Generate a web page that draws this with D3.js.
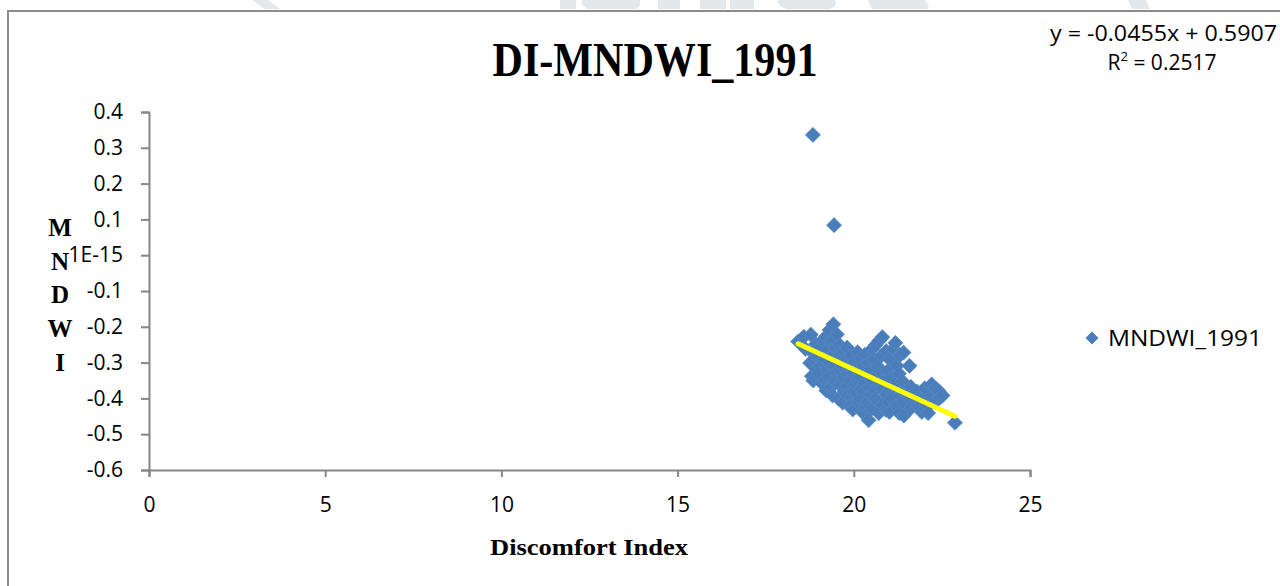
<!DOCTYPE html>
<html>
<head>
<meta charset="utf-8">
<script src="https://cdn.jsdelivr.net/npm/d3@7/dist/d3.min.js"></script>
<style>
  html, body { margin: 0; padding: 0; background: #ffffff; }
  svg { display: block; }
</style>
</head>
<body>
<svg id="chart" width="1280" height="586"></svg>
<script>
// Discomfort Index (x) against MNDWI (y), 1991
const diIndex = [
  18.84, 19.44,
  18.42, 18.58, 18.63,
  18.78, 18.83, 18.76, 18.81, 18.85,
  18.93, 18.88, 18.95,
  19.02, 18.98, 19.05, 19.01,
  19.12, 19.08, 19.14, 19.10,
  19.21, 19.18, 19.24, 19.19, 19.22,
  19.31, 19.28, 19.33, 19.30,
  19.42, 19.38, 19.41, 19.44, 19.37, 19.40,
  19.52, 19.48, 19.55, 19.50, 19.47,
  19.61, 19.58, 19.63, 19.60, 19.57,
  19.72, 19.68, 19.71, 19.74, 19.69,
  19.81, 19.78, 19.83, 19.79, 19.82,
  19.92, 19.88, 19.91, 19.94, 19.89,
  20.02, 19.98, 20.04, 20.01, 19.97,
  20.11, 20.08, 20.13, 20.09, 20.12,
  20.21, 20.18, 20.22, 20.19, 20.24,
  20.31, 20.28, 20.33, 20.29, 20.32,
  20.41, 20.38, 20.43, 20.39, 20.42,
  20.52, 20.48, 20.53, 20.49, 20.51,
  20.62, 20.58, 20.63, 20.59, 20.61,
  20.72, 20.68, 20.73, 20.69, 20.71,
  20.81, 20.78, 20.83, 20.79, 20.82,
  20.92, 20.88, 20.93, 20.91,
  21.02, 20.98, 21.03, 20.99, 21.01,
  21.12, 21.08, 21.13, 21.09,
  21.18, 21.22, 21.19, 21.21,
  21.31, 21.28, 21.33, 21.29,
  21.41, 21.38, 21.43, 21.39, 21.42,
  21.58, 21.62, 21.59, 21.61,
  21.79, 21.82,
  21.91, 21.88, 21.93,
  22.01, 21.98, 22.03,
  22.12, 22.08, 22.11,
  22.21, 22.18,
  22.31, 22.33,
  22.41, 22.44,
  22.52,
  22.87
];
const mndwi = [
  0.336, 0.084,
  -0.241, -0.228, -0.262,
  -0.222, -0.272, -0.301, -0.338, -0.350,
  -0.248, -0.291, -0.318,
  -0.262, -0.283, -0.309, -0.331,
  -0.238, -0.271, -0.298, -0.358,
  -0.228, -0.289, -0.321, -0.349, -0.378,
  -0.209, -0.262, -0.302, -0.338,
  -0.193, -0.241, -0.279, -0.312, -0.368, -0.392,
  -0.221, -0.258, -0.287, -0.328, -0.352,
  -0.252, -0.298, -0.322, -0.361, -0.401,
  -0.268, -0.309, -0.341, -0.379, -0.412,
  -0.258, -0.292, -0.331, -0.368, -0.391,
  -0.281, -0.312, -0.349, -0.398, -0.422,
  -0.299, -0.328, -0.361, -0.382, -0.431,
  -0.271, -0.318, -0.352, -0.388, -0.409,
  -0.289, -0.341, -0.372, -0.402, -0.438,
  -0.278, -0.309, -0.358, -0.381, -0.421,
  -0.301, -0.332, -0.369, -0.411, -0.461,
  -0.262, -0.319, -0.348, -0.391, -0.429,
  -0.251, -0.291, -0.338, -0.378, -0.402,
  -0.239, -0.311, -0.361, -0.409, -0.441,
  -0.229, -0.281, -0.331, -0.372, -0.419,
  -0.268, -0.349, -0.389, -0.432,
  -0.291, -0.322, -0.378, -0.412, -0.438,
  -0.262, -0.341, -0.368, -0.401,
  -0.245, -0.309, -0.359, -0.421,
  -0.279, -0.331, -0.392, -0.441,
  -0.272, -0.352, -0.381, -0.409, -0.448,
  -0.309, -0.368, -0.399, -0.428,
  -0.381, -0.421,
  -0.389, -0.411, -0.438,
  -0.372, -0.401, -0.429,
  -0.381, -0.419, -0.441,
  -0.361, -0.392,
  -0.372, -0.408,
  -0.379, -0.398,
  -0.392,
  -0.468
];

// Linear trend reported on the chart
const trendSlope = -0.0455;
const trendIntercept = 0.5907;
const trendLabel = "y = -0.0455x + 0.5907";
const r2Value = "0.2517";

// Axis ticks
const xTicks = [0, 5, 10, 15, 20, 25];
const yTicks = [0.4, 0.3, 0.2, 0.1, 0, -0.1, -0.2, -0.3, -0.4, -0.5, -0.6];
const yTickLabels = ["0.4", "0.3", "0.2", "0.1", "1E-15", "-0.1", "-0.2", "-0.3", "-0.4", "-0.5", "-0.6"];

const titleText = "DI-MNDWI_1991";
const xTitle = "Discomfort Index";
const yTitle = ["M", "N", "D", "W", "I"];
const seriesName = "MNDWI_1991";

const svg = d3.select("#chart");
const axisColor = "#868686";
const markerColor = "#4a7ebb";
const sansFont = "'Open Sans', 'Noto Sans', sans-serif";
const serifFont = "'Liberation Serif', 'DejaVu Serif', serif";

// Faint page watermark above the chart frame
const wm = svg.append("g").attr("fill", "#e2e8eb");
wm.append("path").attr("d", "M252,0 L268,0 L280,9 L264,9 Z");
wm.append("rect").attr("x", 560).attr("y", 0).attr("width", 16).attr("height", 9);
wm.append("path").attr("d", "M582,0 L640,0 Q642,5 636,9 L588,9 Q580,5 582,0 Z");
wm.append("rect").attr("x", 658).attr("y", 0).attr("width", 22).attr("height", 9);
wm.append("rect").attr("x", 700).attr("y", 0).attr("width", 26).attr("height", 9);
wm.append("rect").attr("x", 730).attr("y", 0).attr("width", 24).attr("height", 9);
wm.append("path").attr("d", "M778,0 L835,0 Q838,6 830,9 L786,9 Q776,5 778,0 Z");
wm.append("path").attr("d", "M868,0 L925,0 Q930,5 928,9 L872,9 Z");
wm.append("path").attr("d", "M1128,0 L1146,0 L1150,9 L1132,9 Z");

// Chart frame (runs off the right and bottom of the page)
svg.append("rect")
  .attr("x", 8).attr("y", 11)
  .attr("width", 1320).attr("height", 640)
  .attr("fill", "#ffffff")
  .attr("stroke", "#8c8c8c")
  .attr("stroke-width", 2);

// Plot area
const plot = { left: 149, right: 1030, top: 112, bottom: 470 };
const x = d3.scaleLinear().domain([0, 25]).range([plot.left, plot.right]);
const y = d3.scaleLinear().domain([-0.6, 0.4]).range([plot.bottom, plot.top]);

// X axis
const xAxis = svg.append("g")
  .attr("transform", `translate(0,${plot.bottom})`)
  .call(d3.axisBottom(x).tickValues(xTicks).tickSize(7).tickPadding(20).tickFormat(d3.format("d")));
xAxis.select(".domain").attr("stroke", axisColor).attr("stroke-width", 2);
xAxis.selectAll(".tick line").attr("stroke", axisColor).attr("stroke-width", 2);
xAxis.selectAll(".tick text")
  .attr("fill", "#000").attr("font-family", sansFont).attr("font-size", 21);

// Y axis
const yAxis = svg.append("g")
  .attr("transform", `translate(${plot.left},0)`)
  .call(d3.axisLeft(y).tickValues(yTicks).tickSize(8).tickPadding(18)
    .tickFormat((d, i) => yTickLabels[i]));
yAxis.select(".domain").attr("stroke", axisColor).attr("stroke-width", 2);
yAxis.selectAll(".tick line").attr("stroke", axisColor).attr("stroke-width", 2);
yAxis.selectAll(".tick text")
  .attr("fill", "#000").attr("font-family", sansFont).attr("font-size", 21);

// Scatter markers: diamonds
const diamond = d3.symbol().type(d3.symbolSquare).size(115);
const pts = diIndex.map((d, i) => ({ di: d, m: mndwi[i] }));
svg.append("g").selectAll("path")
  .data(pts)
  .join("path")
  .attr("d", diamond)
  .attr("transform", d => `translate(${x(d.di)},${y(d.m)}) rotate(45)`)
  .attr("fill", markerColor)
  .attr("stroke", "#5b8cc6")
  .attr("stroke-width", 0.6);

// Trend line over the data range
const [xMin, xMax] = d3.extent(diIndex);
svg.append("line")
  .attr("x1", x(xMin)).attr("y1", y(trendSlope * xMin + trendIntercept))
  .attr("x2", x(xMax)).attr("y2", y(trendSlope * xMax + trendIntercept))
  .attr("stroke", "#ffff00")
  .attr("stroke-width", 5)
  .attr("stroke-linecap", "round");

// Title
svg.append("text")
  .attr("x", 655).attr("y", 76)
  .attr("text-anchor", "middle")
  .attr("font-family", serifFont).attr("font-weight", "bold")
  .attr("font-size", 48)
  .attr("textLength", 325).attr("lengthAdjust", "spacingAndGlyphs")
  .text(titleText);

// Axis titles
svg.append("text")
  .attr("x", 589).attr("y", 555)
  .attr("text-anchor", "middle")
  .attr("font-family", serifFont).attr("font-weight", "bold")
  .attr("font-size", 24)
  .attr("textLength", 198).attr("lengthAdjust", "spacingAndGlyphs")
  .text(xTitle);

svg.append("g").selectAll("text")
  .data(yTitle)
  .join("text")
  .attr("x", 60)
  .attr("y", (d, i) => 236 + i * 33.7)
  .attr("text-anchor", "middle")
  .attr("font-family", serifFont).attr("font-weight", "bold")
  .attr("font-size", 25)
  .text(d => d);

// Trend equation and R²
const eq = svg.append("g").attr("font-family", sansFont).attr("font-size", 21).attr("fill", "#000");
eq.append("text")
  .attr("x", 1050).attr("y", 41)
  .attr("textLength", 227).attr("lengthAdjust", "spacingAndGlyphs")
  .text(trendLabel);
const r2 = eq.append("text").attr("x", 1162).attr("y", 70).attr("text-anchor", "middle");
r2.append("tspan").text("R");
r2.append("tspan").attr("font-size", 13).attr("dy", -9).text("2");
r2.append("tspan").attr("dy", 9).text(" = " + r2Value);

// Legend
const legend = svg.append("g").attr("transform", "translate(1092,338)");
legend.append("path")
  .attr("d", d3.symbol().type(d3.symbolSquare).size(85))
  .attr("transform", "rotate(45)")
  .attr("fill", markerColor);
legend.append("text")
  .attr("x", 16).attr("y", 8)
  .attr("font-family", sansFont).attr("font-size", 22)
  .attr("textLength", 154).attr("lengthAdjust", "spacingAndGlyphs")
  .attr("fill", "#000")
  .text(seriesName);
</script>
</body>
</html>
